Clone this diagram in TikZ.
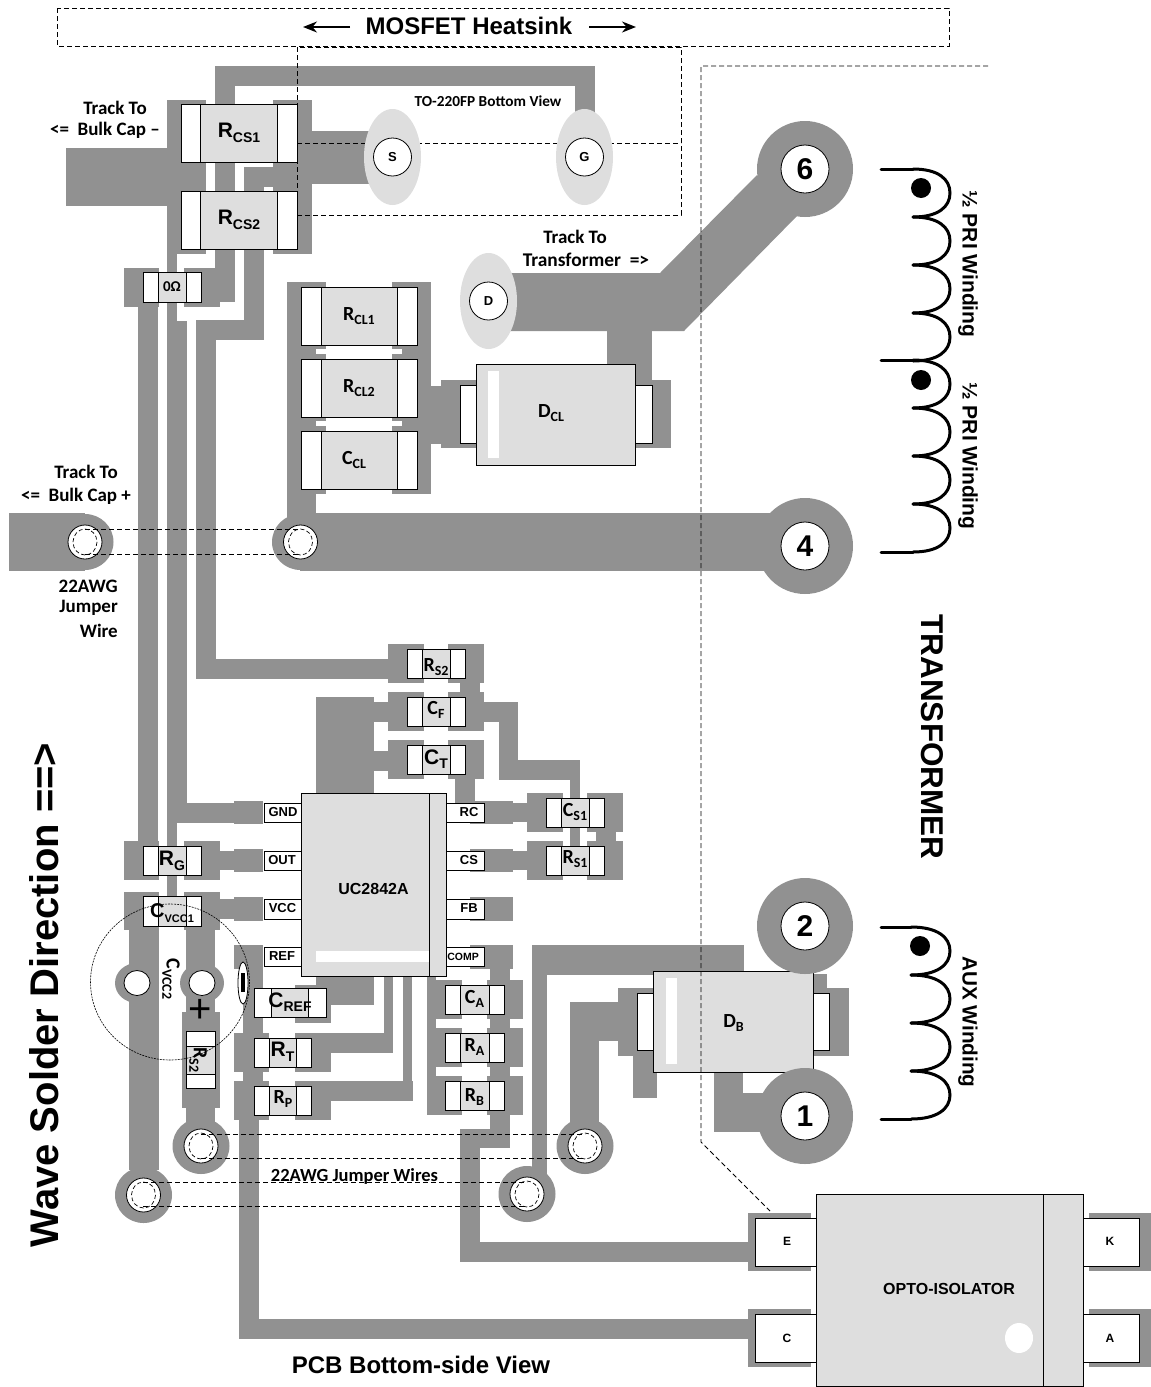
\documentclass[tikz,border=0pt]{standalone}
\usepackage{fontspec}
\setmainfont{Liberation Sans}
\newfontfamily\crl{Carlito}
\usetikzlibrary{arrows.meta}
\definecolor{trk}{HTML}{919191}
\definecolor{bodyg}{HTML}{DEDEDE}
\tikzset{
  trace/.style={fill=trk},
  partbody/.style={fill=bodyg,draw=black,line width=0.9pt},
  capend/.style={fill=white,draw=black,line width=0.9pt},
  pinbox/.style={fill=white,draw=black,line width=0.9pt},
  lightbar/.style={fill=white},
  hole/.style={fill=white,draw=black,line width=0.8pt},
  dashline/.style={draw=black,line width=0.8pt,dash pattern=on 5pt off 3pt},
  thindash/.style={draw=black,line width=0.7pt,dash pattern=on 4pt off 2.5pt},
  winding/.style={draw=black,line width=3pt,line cap=round},
  lab/.style={inner sep=0pt,font=\bfseries,align=center},
  clab/.style={inner sep=0pt,font=\crl\bfseries,align=center}
}
\newcommand{\trk}[4]{\fill[trace] (#1,#2) rectangle (#3,#4);}
\newcommand{\smd}[5]{%
  \fill[partbody] (#1,#2) rectangle (#3,#4);
  \draw[capend] (#1,#2) rectangle ({#1+#5},#4);
  \draw[capend] ({#3-#5},#2) rectangle (#3,#4);}
\newcommand{\pinb}[4]{\draw[pinbox] (#1,#2) rectangle (#3,#4);}
\newcommand{\via}[3]{%
  \coordinate (#1) at (#2,#3);
  \fill[trace] (#1) ellipse [x radius=28.5,y radius=28];
}
\newcommand{\des}[4]{\fontsize{#1}{#1}\selectfont #3\raisebox{-0.22em}{\fontsize{#2}{#2}\selectfont #4}}
\newcommand{\fs}[1]{\fontsize{#1}{#1}\selectfont}
\begin{document}
\begin{tikzpicture}[x=1pt,y=-1pt]
\useasboundingbox (0,0) rectangle (1151,1387);
% ---------- traces, upper part
\trk{215}{66}{595}{86}
\trk{215}{66}{235}{104}
\trk{575}{66}{595}{115}
\trk{215}{160}{235}{192}
\trk{215}{248}{235}{302}
\trk{66}{148}{206}{206}
\trk{167}{100}{206}{165}
\trk{167}{191}{206}{254}
\trk{273}{100}{312}{184}
\trk{298}{131}{380}{184}
\trk{244}{167}{312}{187}
\trk{244}{187}{264}{191}
\trk{273}{187}{312}{254}
\trk{244}{248}{264}{340}
\trk{196}{320}{264}{340}
\trk{196}{320}{216}{679}
\trk{196}{659}{388}{679}
\trk{167}{254}{177}{321}
\trk{167}{321}{187}{823}
\trk{167}{803}{263}{823}
\trk{234}{801}{263}{824}
\trk{167}{823}{177}{896}
\trk{138}{307}{158}{841}
\trk{124}{268}{158.5}{307}
\trk{184}{268}{220}{307}
\trk{220}{268}{235}{302}
% clamp
\trk{287}{282}{316}{541}
\trk{316}{282}{326}{349}
\trk{316}{354}{326}{421}
\trk{316}{426}{326}{494}
\trk{402}{282}{431}{494}
\trk{392}{282}{402}{349}
\trk{392}{354}{402}{421}
\trk{392}{426}{402}{494}
\trk{431}{386}{476}{444}
\trk{441}{380}{476}{448}
\trk{635}{380}{671}{448}
\trk{607}{331}{652}{380}
\fill[trace] (505,273) -- (660,273) -- (757,175) -- (797,216) -- (684,331) -- (505,331) -- cycle;
\trk{300}{513}{805}{571}
\trk{9}{513}{85}{571}
\via{viaBulkL}{85}{542}
\via{viaBulkR}{300.5}{542}
\fill[trace] (805,169) circle [radius=48];
\fill[trace] (805,546) circle [radius=48];
% controller surround
\trk{388}{644}{424}{683}
\trk{448}{644}{484}{683}
\trk{388}{692}{424}{731}
\trk{448}{692}{484}{731}
\trk{460}{683}{480}{692}
\trk{484}{702}{518}{722}
\trk{498.5}{702}{518}{780}
\trk{498.5}{760}{580}{780}
\trk{388}{740}{424}{779}
\trk{448}{740}{484}{779}
\trk{455}{779}{475}{803}
\trk{374}{702}{388}{722}
\trk{374}{751}{388}{771}
\trk{316}{697}{374}{793}
\trk{470}{801}{513}{824}
\trk{513}{803}{527}{822}
\trk{470}{849}{513}{872}
\trk{513}{851}{527}{870}
\trk{470}{897}{513}{921}
\trk{470}{945}{513}{969}
\trk{527}{793}{563}{832}
\trk{587}{793}{623}{832}
\trk{527}{841}{563}{880}
\trk{587}{841}{623}{880}
\trk{570}{780}{580}{846}
\trk{596}{832}{616}{841}
% left of controller
\trk{124}{841}{159}{880}
\trk{184}{841}{220}{880}
\trk{220}{851}{263}{870}
\trk{234}{849}{263}{872}
\trk{124}{892}{159}{930}
\trk{184}{892}{220}{930}
\trk{220}{899}{263}{919}
\trk{234}{897}{263}{921}
\trk{129}{930}{158.5}{1170}
\trk{186}{930}{215}{1020}
\trk{181.5}{1012}{220}{1108}
\trk{186}{1108}{215}{1135}
\fill[trace] (137,983) ellipse [x radius=22,y radius=20];
\fill[trace] (202,983) ellipse [x radius=22,y radius=20];
\trk{234}{945}{263}{969}
\trk{243}{969}{263}{1033}
\trk{234}{1033}{269}{1072}
\trk{243}{1072}{263}{1081}
\trk{234}{1081}{269}{1120}
\trk{239}{1120}{259}{1339}
\trk{239}{1319}{755}{1339}
\trk{748}{1309}{811}{1367}
\trk{295}{985}{331}{1023}
\trk{316}{976}{374}{1005}
\trk{295}{1033}{331}{1072}
\trk{331}{1033}{384}{1053}
\trk{384}{976}{393}{1053}
\trk{295}{1081}{331}{1120}
\trk{331}{1081}{413}{1101}
\trk{402.5}{976}{412}{1081}
\trk{427}{976}{436}{1115}
\trk{427}{980}{462}{1019}
\trk{427}{1028}{462}{1067}
\trk{427}{1076}{462}{1115}
\trk{487}{980}{523}{1019}
\trk{487}{1028}{523}{1067}
\trk{487}{1076}{523}{1115}
\trk{490}{969}{510}{1148}
\trk{460}{1129}{510}{1148}
\trk{460}{1129}{480}{1262}
\trk{460}{1242}{755}{1262}
\trk{748}{1213}{811}{1271}
\trk{1089}{1213}{1151}{1271}
\trk{1089}{1309}{1151}{1367}
% D_B surround
\trk{618}{988}{654}{1056}
\trk{633}{1056}{657}{1098}
\trk{570}{1002}{620}{1041}
\trk{570}{1041}{599}{1146}
\trk{813}{988}{849}{1056}
\trk{813}{974}{827}{988}
\trk{532}{945}{744}{975}
\trk{532}{975}{547}{1190}
\trk{714}{1072}{743}{1132}
\trk{714}{1093}{790}{1132}
\via{viaRa}{201}{1146}
\via{viaLo}{143.5}{1195}
\via{viaRb}{585}{1146}
\via{viaLb}{527}{1194}
% ---------- parts
\smd{181}{104}{297}{162}{19.5}
\smd{181}{191}{297}{249}{19.5}
\smd{143}{272}{201}{302}{15}
\smd{301}{287}{417}{345}{20}
\smd{301}{359}{417}{417}{20}
\smd{301}{431}{417}{489}{20}
\smd{407}{649}{465}{678}{15}
\smd{407}{697}{465}{726}{15}
\smd{407}{745}{465}{774}{15}
\smd{546.5}{798}{604}{827}{15}
\smd{546.5}{846}{604}{875}{15}
\smd{143}{846}{201}{875}{15}
\smd{143}{896}{201}{926}{15}
\smd{254}{988}{326}{1017}{17.5}
\smd{254}{1038}{311}{1067}{15}
\smd{254}{1086}{311}{1115}{15}
\smd{445.5}{985}{504}{1014}{15}
\smd{445.5}{1033}{504}{1062}{15}
\smd{445.5}{1081}{504}{1110}{15}
% vertical R_S2
\fill[partbody] (186,1031) rectangle (215.5,1088);
\draw[capend] (186,1031) rectangle (215.5,1046);
\draw[capend] (186,1074) rectangle (215.5,1088);
% D_CL
\draw[pinbox] (460,385) rectangle (476,443);
\draw[pinbox] (635,385) rectangle (652,443);
\fill[partbody] (476,364) rectangle (635,465);
\fill[lightbar] (488,371) rectangle (499,458);
% D_B
\draw[pinbox] (637.5,993) rectangle (654,1050);
\draw[pinbox] (813,993) rectangle (829.5,1050);
\fill[partbody] (653.5,971) rectangle (813,1072);
\fill[lightbar] (666,978) rectangle (677,1064);
\fill[trace] (805,926) circle [radius=48];
\fill[trace] (805,1116) circle [radius=48];
% pins and IC
\pinb{264}{803}{301.5}{822}
\pinb{264}{851}{301.5}{870}
\pinb{264}{899}{301.5}{919}
\pinb{264}{947}{301.5}{966}
\pinb{446}{803}{484}{822}
\pinb{446}{851}{484}{870}
\pinb{446}{899}{484}{919}
\pinb{446}{947}{484}{966}
\fill[partbody] (301.5,793) rectangle (446,976);
\draw[draw=black,line width=0.9pt] (429,793) -- (429,976);
\fill[lightbar] (316,951) rectangle (429,962);
% opto
\pinb{755}{1218}{816.5}{1266}
\pinb{755}{1314}{816.5}{1362}
\pinb{1083}{1218}{1139}{1266}
\pinb{1083}{1314}{1139}{1362}
\fill[partbody] (816.5,1194) rectangle (1083,1386);
\draw[draw=black,line width=0.9pt] (1043,1194) -- (1043,1386);
\fill[white] (1019,1338) ellipse [x radius=14,y radius=15];
% terminal holes
\coordinate (padSix) at (805,169);
\coordinate (padFour) at (805,546);
\coordinate (padTwo) at (805,926);
\coordinate (padOne) at (805,1116);
\foreach \p in {padSix,padFour,padTwo,padOne} { \draw[hole] (\p) circle [radius=24]; }
\draw[hole] (137,983) ellipse [x radius=13,y radius=12.5];
\draw[hole] (202,983) ellipse [x radius=13,y radius=12.5];
% jumpers
\coordinate (ja) at (85,529); \coordinate (jb) at (300,529);
\coordinate (jc) at (85,554); \coordinate (jd) at (300,554);
\coordinate (je) at (201,1134); \coordinate (jf) at (585,1134);
\coordinate (jg) at (201,1158); \coordinate (jh) at (585,1158);
\coordinate (ji) at (143,1182); \coordinate (jj) at (527,1182);
\coordinate (jk) at (143,1206); \coordinate (jl) at (527,1206);
\foreach \p in {viaBulkL,viaBulkR,viaRa,viaLo,viaRb,viaLb} { \draw[hole] (\p) ellipse [x radius=17,y radius=17]; }
\draw[dashline] (ja) -- (jb);
\draw[dashline] (jc) -- (jd);
\draw[dashline] (je) -- (jf);
\draw[dashline] (jg) -- (jh);
\draw[dashline] (ji) -- (jj);
\draw[dashline] (jk) -- (jl);
\foreach \p in {viaBulkL,viaBulkR,viaRa,viaLo,viaRb,viaLb} { \draw[thindash] (\p) ellipse [x radius=12,y radius=13]; }
% dashed outlines
\draw[dashline] (57,8) rectangle (949,46);
\draw[dashline] (297,47) rectangle (681,215);
\draw[dashline] (297,143) -- (681,143);
\draw[dashline] (988,66) -- (701,66) -- (701,1142) -- (770,1211);
% MOSFET leads
\fill[bodyg] (392.5,157) ellipse [x radius=28.5,y radius=48];
\fill[bodyg] (584.5,157) ellipse [x radius=28.5,y radius=48];
\fill[bodyg] (488.5,301) ellipse [x radius=28.5,y radius=48];
\node[hole,circle,minimum size=38pt,inner sep=0pt,font=\bfseries\fs{13}] (pinS) at (392.5,157) {S};
\node[hole,circle,minimum size=38pt,inner sep=0pt,font=\bfseries\fs{13}] (pinG) at (584.5,157) {G};
\node[hole,circle,minimum size=38pt,inner sep=0pt,font=\bfseries\fs{13}] (pinD) at (488.5,301) {D};
% C_VCC2 outline and polarity
\draw[draw=black,line width=0.6pt,dash pattern=on 2pt off 1pt] (170,982) ellipse [x radius=79.5,y radius=78];
\draw[hole] (243,983) ellipse [x radius=5,y radius=21];
\fill[black] (240.5,973) rectangle (244.5,992);
% windings
\coordinate (wa) at (881,169); \coordinate (wb) at (881,360); \coordinate (wc) at (881,552);
\coordinate (wd) at (881,927); \coordinate (we) at (881,1119);
\draw[winding] (wa) -- (913,169);
\foreach \y in {169,217,265,313} {
  \draw[winding] (913,\y) .. controls (938,\y) and (950,\y+10) .. (950,\y+24) .. controls (950,\y+38) and (938,\y+48) .. (913,\y+48);
}
\draw[winding] (wb) -- (913,360);
\foreach \y in {360,408,456,504} {
  \draw[winding] (913,\y) .. controls (938,\y) and (950,\y+10) .. (950,\y+24) .. controls (950,\y+38) and (938,\y+48) .. (913,\y+48);
}
\draw[winding] (wc) -- (913,552);
\draw[winding] (wd) -- (911,927);
\foreach \y in {927,975,1023,1071} {
  \draw[winding] (911,\y) .. controls (937,\y) and (950,\y+10) .. (950,\y+24) .. controls (950,\y+38) and (937,\y+48) .. (911,\y+48);
}
\draw[winding] (we) -- (911,1119);
\fill[black] (921,188) circle [radius=10];
\fill[black] (921,380) circle [radius=10];
\fill[black] (920,946) circle [radius=10];
% arrows
\coordinate (al) at (350,27); \coordinate (am) at (303,27);
\coordinate (an) at (589,27); \coordinate (ao) at (636,27);
\draw[line width=1.8pt,-{Stealth[length=14pt,width=11pt]}] (al) -- (am);
\draw[line width=1.8pt,-{Stealth[length=14pt,width=11pt]}] (an) -- (ao);
% ---------- text
\node[lab] (tHeat) at (469,26) {\fs{24}MOSFET Heatsink};
\node[lab] (tPcb) at (421,1365) {\fs{24}PCB Bottom-side View};
\node[lab,rotate=90] (tWave) at (44.5,995) {\fs{40}Wave Solder Direction ==>};
\node[lab,rotate=-90] (tXfmr) at (932,737) {\fs{31.5}TRANSFORMER};
\node[lab,rotate=-90] (tPriA) at (968,264) {\fs{21}½ PRI Winding};
\node[lab,rotate=-90] (tPriB) at (968,456) {\fs{21}½ PRI Winding};
\node[lab,rotate=-90] (tAux) at (968,1022) {\fs{20.7}AUX Winding};
\node[lab] (tSix) at (805,169) {\fs{30}6};
\node[lab] (tFour) at (805,546) {\fs{30}4};
\node[lab] (tTwo) at (805,926) {\fs{30}2};
\node[lab] (tOne) at (805,1116) {\fs{30}1};
\node[lab] (tOpto) at (949,1289) {\fs{16}OPTO-ISOLATOR};
\node[lab] (tUc) at (373.5,889) {\fs{16}UC2842A};
\node[lab] (tE) at (787,1241) {\fs{12}E};
\node[lab] (tC) at (787,1338) {\fs{12}C};
\node[lab] (tK) at (1110,1241) {\fs{12}K};
\node[lab] (tA) at (1110,1338) {\fs{12}A};
\node[lab] (tGnd) at (283,812.5) {\fs{13}GND};
\node[lab] (tOut) at (282,860.5) {\fs{13}OUT};
\node[lab] (tVcc) at (282.5,908.5) {\fs{13}VCC};
\node[lab] (tRef) at (282,956.5) {\fs{13}REF};
\node[lab] (tRc) at (469,812.5) {\fs{13}RC};
\node[lab] (tCs) at (469,860.5) {\fs{13}CS};
\node[lab] (tFb) at (469,908.5) {\fs{13}FB};
\node[lab] (tComp) at (463,956.5) {\fs{10.5}COMP};
\node[clab] (tTo) at (488,101) {\fs{15.3}TO-220FP Bottom View};
\node[clab] (tTa) at (115,108) {\fs{19}Track To};
\node[clab] (tTb) at (105,130) {\fs{19}<= \ Bulk Cap –};
\node[clab] (tTc) at (575,237) {\fs{19}Track To};
\node[clab] (tTd) at (586,260) {\fs{19.4}Transformer \ =>};
\node[clab] (tTe) at (86,472) {\fs{19}Track To};
\node[clab] (tTf) at (76,496) {\fs{19}<= \ Bulk Cap +};
\node[clab,anchor=east] (tJa) at (118,586) {\fs{19}22AWG};
\node[clab,anchor=east] (tJb) at (118,608) {\fs{19}Jumper};
\node[clab,anchor=east] (tJc) at (118,631) {\fs{19}Wire};
\node[clab] (tJw) at (354.5,1176) {\fs{18.5}22AWG Jumper Wires};
% designators
\node[lab] (dCs1) at (239,133) {\des{21}{14}{R}{CS1}};
\node[lab] (dCs2) at (239,220) {\des{21}{14}{R}{CS2}};
\node[lab] (dG) at (172,861) {\des{21}{14}{R}{G}};
\node[lab] (dVa) at (172,913) {\des{20}{11}{C}{VCC1}};
\node[lab] (dRef) at (290,1002) {\des{21}{14}{C}{REF}};
\node[lab] (dRt) at (282.5,1052) {\des{21}{14}{R}{T}};
\node[lab] (dCt) at (436,759) {\des{21}{14}{C}{T}};
\node[clab] (dZero) at (172,287) {\fs{15}0Ω};
\node[clab] (dCl1) at (359,316) {\des{20}{14}{R}{CL1}};
\node[clab] (dCl2) at (359,388) {\des{20}{14}{R}{CL2}};
\node[clab] (dCc) at (354,460) {\des{20}{14}{C}{CL}};
\node[clab] (dDc) at (551,413) {\des{20}{14}{D}{CL}};
\node[clab] (dDb) at (733.5,1023) {\des{20}{14}{D}{B}};
\node[clab] (dS2) at (436,667) {\des{20}{14}{R}{S2}};
\node[clab] (dCf) at (436,710) {\des{20}{14}{C}{F}};
\node[clab] (dCs) at (575,812) {\des{20}{14}{C}{S1}};
\node[clab] (dRs) at (575,859) {\des{20}{14}{R}{S1}};
\node[clab] (dRp) at (283,1099) {\des{20}{14}{R}{P}};
\node[clab] (dCa) at (474.5,999) {\des{20}{14}{C}{A}};
\node[clab] (dRa) at (474.5,1047) {\des{20}{14}{R}{A}};
\node[clab] (dRb) at (474.5,1097) {\des{20}{14}{R}{B}};
\node[clab,rotate=-90] (dVb) at (171,979) {\des{20}{14}{C}{VCC2}};
\node[clab,rotate=-90] (dS2v) at (198,1060) {\des{20}{14}{R}{S2}};
\node[inner sep=0pt] (tPlus) at (200,1011) {\fs{40}+};
\end{tikzpicture}
\end{document}
